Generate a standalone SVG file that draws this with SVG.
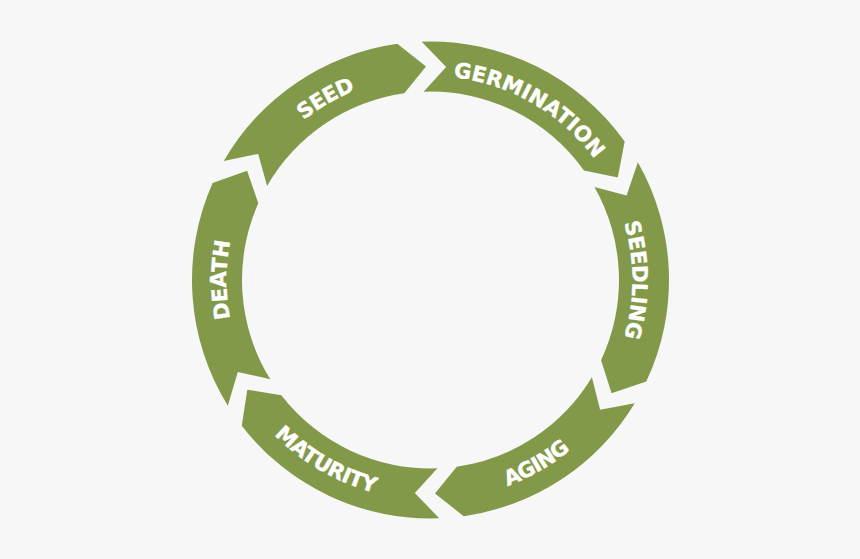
<svg xmlns="http://www.w3.org/2000/svg" xmlns:xlink="http://www.w3.org/1999/xlink" width="860" height="559" viewBox="0 0 860 559">
  <style>
    .seg { fill: #83994a; }
    .lbl { fill: #ffffff; stroke: #ffffff; stroke-width: 0.4px; stroke-linejoin: round; font-family: "DejaVu Sans", "Liberation Sans", sans-serif; font-weight: 700; font-size: 21px; }
  </style>
  <defs>
    <path id="p-seed" d="M233.45,227.20 A204,204 0 0 1 483.30,82.95"/>
    <path id="p-germ" d="M377.70,82.95 A204,204 0 0 1 627.55,227.20"/>
    <path id="p-seedling" d="M573.34,137.16 A202,202 0 0 1 573.34,422.84"/>
    <path id="p-aging" d="M373.56,492.50 A220,220 0 0 0 642.99,336.94"/>
    <path id="p-maturity" d="M218.00,336.94 A220,220 0 0 0 487.44,492.50"/>
    <path id="p-death" d="M286.25,424.25 A204,204 0 0 1 286.25,135.75"/>
  </defs>
  <rect width="860" height="559" fill="#f7f7f7"/>

  <g id="seed">
    <path class="seg" d="M223.74,161.11 A238.5,238.5 0 0 1 397.31,43.82 L426.03,66.55 L404.27,93.33 A188.5,188.5 0 0 0 267.09,186.03 L258.21,153.90 Z"/>
    <text class="lbl"><textPath xlink:href="#p-seed" href="#p-seed" startOffset="50%" text-anchor="middle" textLength="60" lengthAdjust="spacing">SEED</textPath></text>
  </g>
  <g id="germination">
    <path class="seg" d="M421.76,41.66 A238.5,238.5 0 0 1 624.67,141.50 L617.77,177.47 L583.96,170.54 A188.5,188.5 0 0 0 423.59,91.63 L446.14,67.07 Z"/>
    <text class="lbl"><textPath xlink:href="#p-germ" href="#p-germ" startOffset="50%" text-anchor="middle" textLength="168" lengthAdjust="spacing">GERMINATION</textPath></text>
  </g>
  <g id="seedling">
    <path class="seg" d="M637.87,162.20 A238.5,238.5 0 0 1 646.30,381.55 L611.56,393.14 L601.06,360.26 A188.5,188.5 0 0 0 594.40,186.89 L626.59,195.55 Z"/>
    <text class="lbl"><textPath xlink:href="#p-seedling" href="#p-seedling" startOffset="50%" text-anchor="middle" textLength="116" lengthAdjust="spacing">SEEDLING</textPath></text>
  </g>
  <g id="aging">
    <path class="seg" d="M634.72,403.19 A238.5,238.5 0 0 1 463.69,516.18 L434.97,493.45 L456.73,466.67 A188.5,188.5 0 0 0 591.91,377.37 L600.11,409.68 Z"/>
    <text class="lbl"><textPath xlink:href="#p-aging" href="#p-aging" startOffset="50%" text-anchor="middle" textLength="73" lengthAdjust="spacing">AGING</textPath></text>
  </g>
  <g id="maturity">
    <path class="seg" d="M439.24,518.34 A238.5,238.5 0 0 1 241.78,425.83 L247.29,389.63 L281.34,395.26 A188.5,188.5 0 0 0 437.41,468.37 L414.86,492.93 Z"/>
    <text class="lbl"><textPath xlink:href="#p-maturity" href="#p-maturity" startOffset="50%" text-anchor="middle" textLength="117" lengthAdjust="spacing">MATURITY</textPath></text>
  </g>
  <g id="death">
    <path class="seg" d="M227.80,405.68 A238.5,238.5 0 0 1 212.62,182.99 L247.11,170.68 L258.30,203.33 A188.5,188.5 0 0 0 270.30,379.33 L237.80,371.91 Z"/>
    <text class="lbl"><textPath xlink:href="#p-death" href="#p-death" startOffset="50%" text-anchor="middle" textLength="78" lengthAdjust="spacing">DEATH</textPath></text>
  </g>
</svg>
